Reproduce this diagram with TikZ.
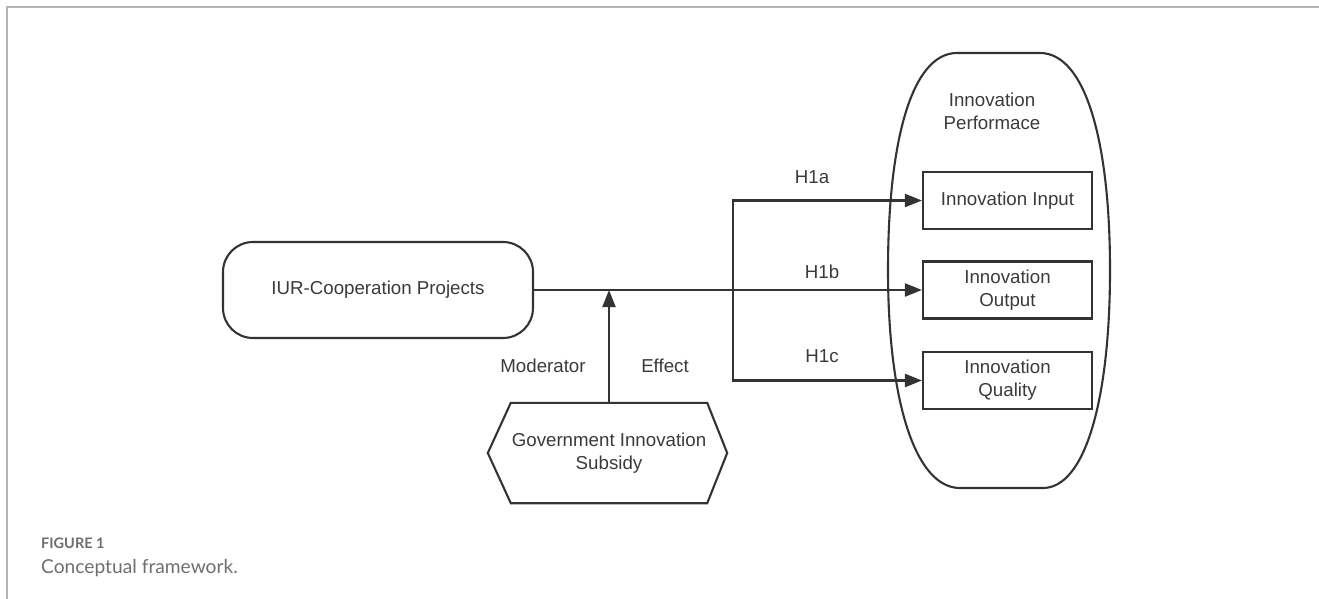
\documentclass[tikz,border=0pt]{standalone}
\usepackage{fontspec}
\setmainfont{Liberation Sans}
\newfontfamily\capfont{Lato}
\usetikzlibrary{arrows.meta}
\definecolor{ink}{HTML}{333333}
\definecolor{txt}{HTML}{3A3A3A}
\definecolor{framec}{HTML}{B4B4B4}
\definecolor{capc}{HTML}{6E6E6E}
\begin{document}
\begin{tikzpicture}[x=1pt,y=-1pt,
  line/.style={draw=ink,line width=2.1pt},
  arr/.style={line,-{Triangle[length=17pt,width=13pt]}},
  lab/.style={text=txt,font=\fontsize{18.7}{23}\selectfont,inner sep=0pt},
  box/.style={lab,draw=ink,line width=2.1pt,minimum width=169pt,minimum height=57pt,align=center},
  capstyle/.style={anchor=base west,inner sep=0pt,text=capc},
]
\useasboundingbox (0,0) rectangle (1319,599);
% frame
\draw[framec,line width=2pt] (1319,7) -- (7,7) -- (7,599);

% source node
\node[lab,draw=ink,line width=2.1pt,rounded corners=30pt,minimum width=310pt,minimum height=96pt] (iur) at (378,290) {IUR-Cooperation Projects};

% outcome container
\draw[line] (957,53) -- (1040,53)
  .. controls (1085,53) and (1110,140) .. (1110,270)
  .. controls (1110,400) and (1085,488) .. (1043,488)
  -- (960,488)
  .. controls (915,488) and (888,400) .. (888,270)
  .. controls (888,140) and (912,53) .. cycle;
\node[lab,align=center] (perf) at (992,111) {Innovation\\Performace};

% outcome boxes
\node[box] (in) at (1007.5,200.5) {Innovation Input};
\node[box] (out) at (1007.5,290) {Innovation\\Output};
\node[box] (qual) at (1007.5,380.5) {Innovation\\Quality};

% moderator hexagon
\node[lab,align=center,minimum width=196pt,minimum height=100pt] (gov) at (609,453) {Government Innovation\\Subsidy};
\draw[line] (gov.north west) -- (gov.north east) -- ([xshift=20pt]gov.east) -- (gov.south east) -- (gov.south west) -- ([xshift=-23pt]gov.west) -- cycle;

% connectors
\coordinate (j) at (733,290);
\coordinate (m) at (609,290);
\draw[arr] (iur.east) -- (out.west);
\draw[arr] (j) |- (in.west);
\draw[arr] (j) |- (qual.west);
\draw[arr] (gov.north) -- (m);

% labels
\node[lab] (h1a) at (812,177) {H1a};
\node[lab] (h1b) at (822,272) {H1b};
\node[lab] (h1c) at (822,356) {H1c};
\node[lab] (mod) at (543,366) {Moderator};
\node[lab] (eff) at (665,366) {Effect};

% caption
\node[capstyle,font=\capfont\bfseries\fontsize{14.5}{16}\selectfont] (fig) at (41,548) {FIGURE 1};
\node[capstyle,font=\capfont\fontsize{19.2}{22}\selectfont] (cap) at (41,573) {Conceptual framework.};
\end{tikzpicture}
\end{document}
